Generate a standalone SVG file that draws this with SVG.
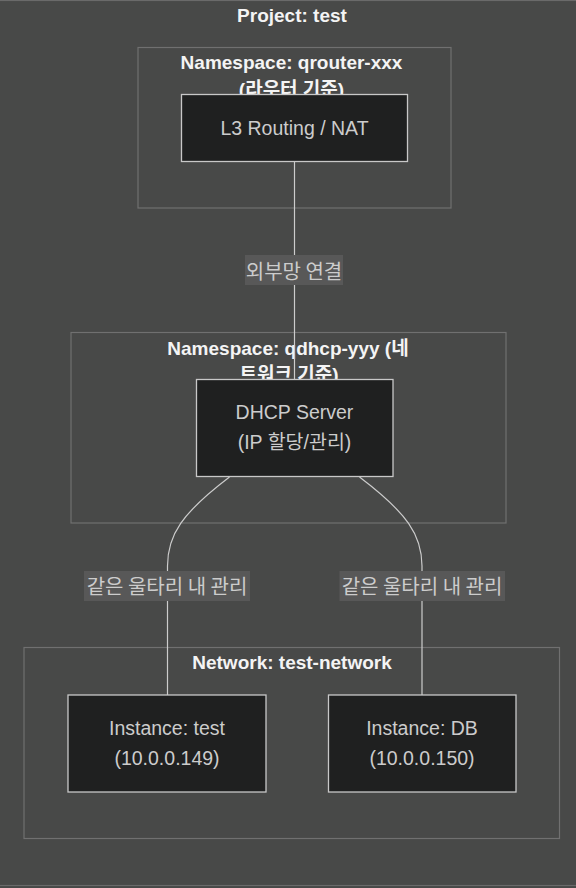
<svg xmlns="http://www.w3.org/2000/svg" width="576" height="888" viewBox="0 0 576 888">
<style>
.bg{fill:#484948}
.cluster{fill:none;stroke:#707070;stroke-width:1.2}
.ctitle{font-family:"Liberation Sans","Noto Sans CJK KR",sans-serif;font-weight:bold;font-size:19px;fill:#f4f4f4;text-anchor:middle;dominant-baseline:central}
.node rect{fill:#1f2020;stroke:#c8c8c8;stroke-width:1.3}
.ntext{font-family:"Liberation Sans","Noto Sans CJK KR",sans-serif;font-size:19.5px;fill:#cccccc;text-anchor:middle;dominant-baseline:central}
.edge{fill:none;stroke:#cccccc;stroke-width:1.2}
.elbg{fill:#585858}
.eltext{font-family:"Noto Sans CJK KR","Liberation Sans",sans-serif;font-size:20px;fill:#cccccc;text-anchor:middle;dominant-baseline:central}
</style>
<rect class="bg" x="0" y="0" width="576" height="888"/>
<g id="project">
<rect x="-2" y="0.5" width="580" height="885" fill="none" stroke="#6a6a6a" stroke-width="1.2"/>
<text class="ctitle" x="292" y="15">Project: test</text>
</g>
<g id="ns-qrouter">
<rect class="cluster" x="138" y="47.5" width="313" height="160.5"/>
<text class="ctitle" x="291.5" y="62">Namespace: qrouter-xxx</text>
<text class="ctitle" x="291.5" y="89">(라우터 기준)</text>
</g>
<g id="ns-qdhcp">
<rect class="cluster" x="71" y="332.5" width="435" height="190.5"/>
<text class="ctitle" x="288" y="348">Namespace: qdhcp-yyy (네</text>
<text class="ctitle" x="289" y="374">트워크 기준)</text>
</g>
<g id="net-test">
<rect class="cluster" x="24" y="647.5" width="535.5" height="191"/>
<text class="ctitle" x="292" y="662">Network: test-network</text>
</g>
<g id="connectors">
<path class="edge" d="M294.5,161.5 L294.5,379.5"/>
<path class="edge" d="M229.5,477 C182,513 167.5,535 167.5,566 L167.5,695"/>
<path class="edge" d="M359.5,477 C407,513 422,535 422,566 L422,695"/>
<rect class="elbg" x="245" y="255" width="98" height="30"/>
<text class="eltext" x="294" y="270">외부망 연결</text>
<rect class="elbg" x="84" y="571" width="166" height="30"/>
<text class="eltext" x="167" y="585">같은 울타리 내 관리</text>
<rect class="elbg" x="339.5" y="571" width="165.5" height="30"/>
<text class="eltext" x="422" y="585">같은 울타리 내 관리</text>
</g>
<g id="l3" class="node">
<rect x="181.5" y="94.5" width="226" height="67"/>
<text class="ntext" x="294.5" y="128">L3 Routing / NAT</text>
</g>
<g id="dhcp" class="node">
<rect x="196.5" y="379.5" width="196.5" height="97"/>
<text class="ntext" x="294.5" y="412">DHCP Server</text>
<text class="ntext" x="294.5" y="442">(IP 할당/관리)</text>
</g>
<g id="inst-test" class="node">
<rect x="68" y="695" width="198" height="97"/>
<text class="ntext" x="167" y="728">Instance: test</text>
<text class="ntext" x="167" y="758">(10.0.0.149)</text>
</g>
<g id="inst-db" class="node">
<rect x="328.5" y="695" width="187.5" height="97"/>
<text class="ntext" x="422" y="728">Instance: DB</text>
<text class="ntext" x="422" y="758">(10.0.0.150)</text>
</g>
</svg>
